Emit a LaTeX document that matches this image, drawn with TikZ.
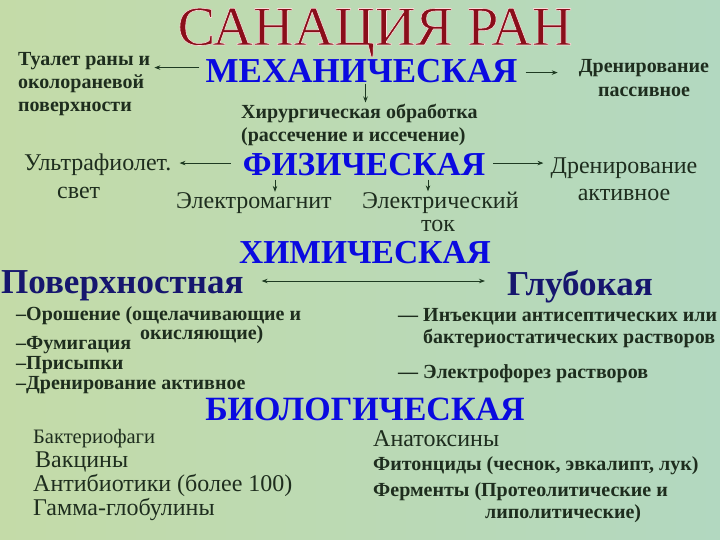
\documentclass[tikz,border=0pt]{standalone}
\usepackage{fontspec}
\setmainfont{Liberation Serif}
\usetikzlibrary{arrows.meta}
\definecolor{bgA}{HTML}{C4DBA8}
\definecolor{bgB}{HTML}{B2D8C0}
\definecolor{ink}{HTML}{1E2D1E}
\definecolor{headblue}{HTML}{0A0AE0}
\definecolor{navy}{HTML}{16166E}
\definecolor{titlered}{HTML}{8A0E1A}
\definecolor{arrowc}{HTML}{1E3A22}
\newcommand{\strk}[3]{\special{pdf:literal direct 1 j #2 w #1 RG 2 Tr}#3\special{pdf:literal direct 0 Tr}}
\tikzset{
  titlestyle/.style={font=\fontsize{58}{62}\selectfont, text=titlered, inner sep=0, anchor=base},
  head/.style={font=\bfseries\fontsize{33.5}{38}\selectfont, text=headblue, inner sep=0, anchor=base},
  sub/.style={font=\bfseries\fontsize{35}{40}\selectfont, text=navy, inner sep=0, anchor=base west},
  bt/.style={font=\bfseries\fontsize{20}{24}\selectfont, text=ink, inner sep=0, anchor=base west},
  rt/.style={font=\fontsize{24}{28}\selectfont, text=ink, inner sep=0, anchor=base west},
  rts/.style={font=\fontsize{20.5}{24}\selectfont, text=ink, inner sep=0, anchor=base west},
  arr/.style={draw=arrowc, line width=0.9pt, -{Stealth[length=6pt,width=4.5pt]}},
  arrtwo/.style={draw=arrowc, line width=0.9pt, {Stealth[length=6pt,width=4.5pt]}-{Stealth[length=6pt,width=4.5pt]}},
}
\begin{document}
\begin{tikzpicture}[x=1pt,y=-1pt]
\useasboundingbox (0,0) rectangle (720,540);
\fill[left color=bgA, right color=bgB] (0,0) rectangle (720,540);

% title
\node[titlestyle, xscale=0.97, yscale=0.96] (title) at (375,45) {\strk{0.99 0.85 0.85}{0.6}{САНАЦИЯ РАН}};

% mechanical
\node[head, font=\bfseries\fontsize{35}{38}\selectfont] (mech) at (361.5,83) {МЕХАНИЧЕСКАЯ};
\node[bt] (tual1) at (18,66) {Туалет раны и};
\node[bt] (tual2) at (18,89) {околораневой};
\node[bt] (tual3) at (18,112) {поверхности};
\node[bt, anchor=base] (drp1) at (644,73) {Дренирование};
\node[bt, anchor=base] (drp2) at (644,97) {пассивное};
\node[bt] (hir1) at (241,119) {Хирургическая обработка};
\node[bt] (hir2) at (241,142) {(рассечение и иссечение)};

\draw[arr, shorten <=6pt, shorten >=4pt] ([yshift=4pt]mech.west) -- ([yshift=4pt]mech.west -| tual1.east);
\draw[arr, shorten <=8pt, shorten >=21pt] ([yshift=-1pt]mech.east) -- ([yshift=-1pt]mech.east -| drp1.west);
\draw[arr, shorten >=2pt] ([xshift=4pt]mech.south) -- ([xshift=4pt]mech.south |- hir1.north);

% physical
\node[head] (fiz) at (364,176) {ФИЗИЧЕСКАЯ};
\node[rt] (uv1) at (24,171) {Ультрафиолет.};
\node[rt] (uv2) at (57,199) {свет};
\node[rt, anchor=base] (dra1) at (624,174) {Дренирование};
\node[rt, anchor=base] (dra2) at (624,201) {активное};
\node[rt] (emag) at (176,209) {Электромагнит};
\node[rt] (elec1) at (362,209) {Электрический};
\node[rt, anchor=base] (elec2) at (438,232) {ток};

\draw[arr, shorten <=12pt, shorten >=8pt] ([yshift=2pt]fiz.west) -- ([yshift=2pt]fiz.west -| uv1.east);
\draw[arr, shorten <=8pt, shorten >=7pt] ([yshift=2pt]fiz.east) -- ([yshift=2pt]fiz.east -| dra1.west);
\draw[arr, shorten <=3pt, shorten >=1pt] ([xshift=99pt]emag.north west |- fiz.south) -- ([xshift=99pt]emag.north west);
\draw[arr, shorten <=3pt, shorten >=1pt] ([xshift=66pt]elec1.north west |- fiz.south) -- ([xshift=66pt]elec1.north west);

% chemical
\node[head] (him) at (365,263) {ХИМИЧЕСКАЯ};
\node[sub] (poverh) at (1,293) {Поверхностная};
\node[sub] (glub) at (507,295) {Глубокая};
\draw[arrtwo, shorten <=18pt, shorten >=22pt] ([yshift=12pt]poverh.base east) -- ([yshift=12pt]poverh.base east -| glub.west);

\node[bt] (l1) at (16,320) {–Орошение (ощелачивающие и};
\node[bt] (l1b) at (140,339) {окисляющие)};
\node[bt] (l2) at (16,349) {–Фумигация};
\node[bt] (l3) at (16,369) {–Присыпки};
\node[bt] (l4) at (16,389) {–Дренирование активное};

\node[bt] (r1) at (398,321) {— Инъекции антисептических или};
\node[bt] (r1b) at (423,343) {бактериостатических растворов};
\node[bt] (r2) at (398,378) {— Электрофорез растворов};

% biological
\node[head, font=\bfseries\fontsize{34}{38}\selectfont] (bio) at (365,420) {БИОЛОГИЧЕСКАЯ};
\node[rts] (b1) at (33,443) {Бактериофаги};
\node[rt] (b2) at (35,467) {Вакцины};
\node[rt] (b3) at (33,491) {Антибиотики (более 100)};
\node[rt] (b4) at (33,515) {Гамма-глобулины};
\node[rt] (c1) at (373,446) {Анатоксины};
\node[bt] (c2) at (373,470) {Фитонциды (чеснок, эвкалипт, лук)};
\node[bt] (c3) at (373,496) {Ферменты (Протеолитические и};
\node[bt] (c4) at (485,518) {липолитические)};
\end{tikzpicture}
\end{document}
